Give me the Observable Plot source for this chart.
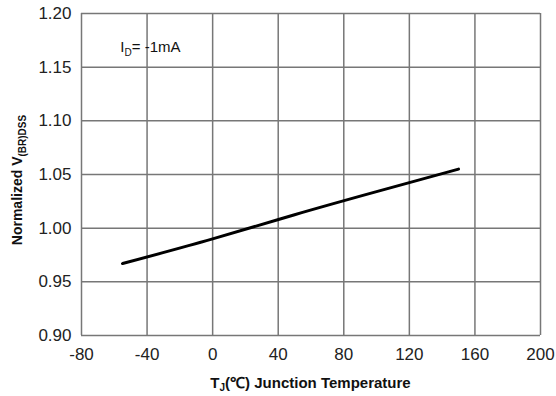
<!DOCTYPE html>
<html>
<head>
<meta charset="utf-8">
<script src="https://cdn.jsdelivr.net/npm/d3@7"></script>
<script src="https://cdn.jsdelivr.net/npm/@observablehq/plot@0.6"></script>
<style>
  html, body { margin: 0; padding: 0; background: #fff; }
  #chart { width: 556px; height: 396px; }
</style>
</head>
<body>
<div id="chart"></div>
<script>
const temperature = [-55, 0, 50, 100, 150];
const normalizedBV = [0.967, 0.990, 1.0125, 1.034, 1.055];
const xTicks = [-80, -40, 0, 40, 80, 120, 160, 200];
const yTicks = [0.90, 0.95, 1.00, 1.05, 1.10, 1.15, 1.20];

const data = temperature.map((t, i) => ({t, v: normalizedBV[i]}));
const font = "'Liberation Sans', Arial, sans-serif";
const gridColor = "#777";

const plot = Plot.plot({
  width: 556,
  height: 396,
  marginLeft: 81,
  marginRight: 16,
  marginTop: 13,
  marginBottom: 61,
  style: {fontFamily: font, fontSize: "17px", color: "#222", background: "#fff"},
  x: {domain: [-80, 200], ticks: xTicks, label: null},
  y: {domain: [0.90, 1.20], ticks: yTicks, label: null},
  marks: [
    Plot.gridX(xTicks, {stroke: gridColor, strokeOpacity: 1, strokeWidth: 1.5}),
    Plot.gridY(yTicks, {stroke: gridColor, strokeOpacity: 1, strokeWidth: 1.5}),
    Plot.axisX(xTicks, {tickSize: 0, tickPadding: 12, tickFormat: d => String(d), fontSize: 17, fill: "#222"}),
    Plot.axisY(yTicks, {tickSize: 0, tickPadding: 10, tickFormat: d => d.toFixed(2), fontSize: 17, fill: "#222"}),
    Plot.line(data, {x: "t", y: "v", stroke: "#000", strokeWidth: 3, curve: "natural"})
  ]
});

document.getElementById("chart").appendChild(plot);

const svg = d3.select(plot);
const xs = plot.scale("x");
const ys = plot.scale("y");

// Annotation I_D = -1mA
const ann = svg.append("text")
  .attr("x", xs.apply(-56))
  .attr("y", ys.apply(1.164))
  .attr("text-anchor", "start")
  .attr("font-family", font)
  .attr("font-size", 15)
  .attr("fill", "#111");
ann.append("tspan").text("I");
ann.append("tspan").attr("font-size", 10).attr("dy", 4).text("D");
ann.append("tspan").attr("dy", -4).text("= -1mA");

// X axis label
const xl = svg.append("text")
  .attr("x", (81 + 540) / 2)
  .attr("y", 388)
  .attr("text-anchor", "middle")
  .attr("font-family", font)
  .attr("font-size", 15)
  .attr("font-weight", "bold")
  .attr("fill", "#111");
xl.append("tspan").text("T");
xl.append("tspan").attr("font-size", 10).attr("dy", 3).text("J");
xl.append("tspan").attr("dy", -3).text("(℃) Junction Temperature");

// Y axis label
const yl = svg.append("text")
  .attr("transform", `translate(22, ${ys.apply(1.05) + 6}) rotate(-90)`)
  .attr("text-anchor", "middle")
  .attr("font-family", font)
  .attr("font-size", 14)
  .attr("font-weight", "bold")
  .attr("fill", "#111");
yl.append("tspan").text("Normalized V");
yl.append("tspan").attr("font-size", 10).attr("dy", 4).text("(BR)DSS");
</script>
</body>
</html>
